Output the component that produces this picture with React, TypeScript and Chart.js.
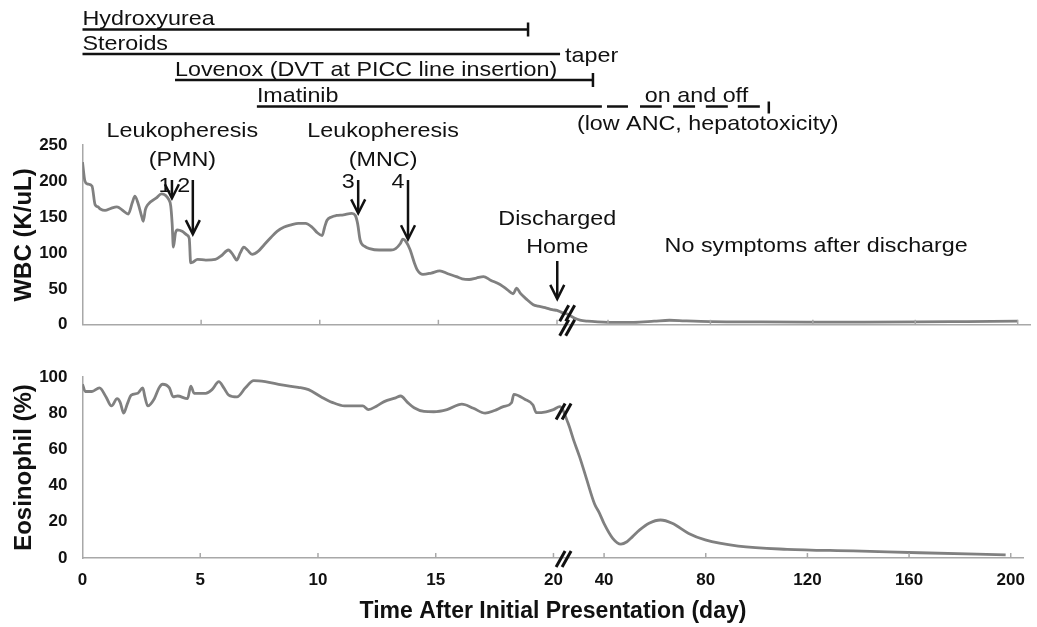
import React, { useEffect, useRef } from 'react';
import { Chart, registerables, LinearScale } from 'chart.js';

Chart.register(...registerables);

// ---------- data ----------
const X_TICKS = [0, 5, 10, 15, 20, 40, 80, 120, 160, 200];
const WBC_TICKS = [0, 50, 100, 150, 200, 250];
const EOS_TICKS = [0, 20, 40, 60, 80, 100];

const WBC_DAYS = [0, 0.1, 0.2, 0.4, 0.53, 0.65, 0.75, 0.95, 1.2, 1.45, 1.7, 1.93, 2.1, 2.21, 2.35, 2.5, 2.56, 2.65, 2.75, 3.1, 3.33, 3.5, 3.62, 3.72, 3.78, 3.83, 3.92, 4.0, 4.2, 4.4, 4.5, 4.56, 4.65, 4.85, 5.2, 5.6, 5.85, 6.15, 6.35, 6.5, 6.65, 6.8, 6.95, 7.15, 7.4, 7.65, 7.9, 8.2, 8.5, 8.8, 9.1, 9.4, 9.7, 9.9, 10.1, 10.2, 10.3, 10.5, 10.7, 11.0, 11.35, 11.5, 11.6, 11.7, 11.9, 12.1, 12.5, 13.0, 13.2, 13.4, 13.5, 13.65, 13.8, 14.0, 14.1, 14.35, 14.7, 15.06, 15.4, 15.76, 16.0, 16.3, 16.6, 16.9, 17.2, 17.6, 17.9, 18.15, 18.3, 18.45, 18.7, 19.0, 19.2, 19.5, 19.8, 20, 22, 24, 27, 29, 32, 36, 40, 50, 58, 64, 70, 80, 100, 120, 140, 160, 180, 200];
const WBC_VALUES = [226, 200, 196, 193, 167, 164, 161, 159, 162, 164, 159, 154, 170, 179, 168, 150, 144, 160, 167, 176, 182, 180, 175, 165, 140, 108, 128, 132, 130, 125, 120, 86, 87, 91, 90, 91, 96, 104, 97, 90, 100, 108, 104, 98, 102, 111, 120, 130, 136, 139, 141, 141, 135, 128, 124, 135, 145, 150, 152, 153, 155, 152, 140, 118, 109, 106, 104, 104, 106, 113, 119, 115, 105, 85, 77, 70, 72, 75, 71, 67, 64, 63, 65, 67, 62, 56, 49, 43, 51, 44, 36, 28, 26, 24, 21, 20, 17, 15, 9, 6.5, 5, 4, 3.5, 3.5, 5, 6.3, 5.5, 4.5, 4, 3.8, 3.8, 4, 4.5, 5];

const EOS_DAYS = [0, 0.12, 0.4, 0.72, 1.0, 1.23, 1.47, 1.6, 1.75, 1.9, 2.07, 2.35, 2.56, 2.65, 2.77, 3.05, 3.25, 3.4, 3.69, 3.85, 4.04, 4.46, 4.6, 4.74, 5.23, 5.5, 5.79, 6.0, 6.21, 6.56, 6.92, 7.27, 7.76, 8.46, 9.16, 9.6, 10.14, 10.6, 11.13, 11.9, 12.14, 12.5, 12.81, 13.3, 13.51, 13.8, 14.08, 14.5, 14.92, 15.48, 16.11, 16.6, 17.1, 17.5, 17.87, 18.22, 18.32, 18.78, 19.13, 19.27, 19.69, 20, 22.5, 25.8, 28, 30.3, 33, 36.2, 38.2, 40, 43.4, 46.6, 49, 51.2, 54, 57.7, 62.2, 66.8, 73.3, 79.8, 92.8, 112, 138, 164, 198];
const EOS_VALUES = [96, 92, 92, 94, 89, 84, 88, 86, 80, 85, 90, 91, 94, 89, 84, 88, 94, 96, 94, 89, 89.5, 88, 95, 91, 91, 93, 97.4, 94, 90, 89, 94, 98, 97.4, 95.6, 94.3, 93, 89, 86, 84, 84, 82, 84, 86.4, 88.5, 89.5, 86, 83, 81, 80.8, 82, 85, 82.7, 80, 81.5, 83.6, 85.8, 90.4, 87.7, 84.5, 80.3, 80.8, 82, 83.6, 74.4, 65, 56, 44, 30, 24.7, 19, 10.9, 7.7, 9, 11.8, 15.5, 19.2, 21, 19.2, 13.6, 10, 6.6, 4.8, 3.9, 2.9, 1.7];

// treatment timeline (days)
const DRUG_NAMES = ['Hydroxyurea', 'Steroids', 'Lovenox (DVT at PICC line insertion)', 'Imatinib'];
const DRUG_START = [0, 0, 3.9, 7.35];
const DRUG_END = [18.78, 21.2, 34.1, 37.6];
const DRUG_END_MARK = [true, false, true, false];
const IMATINIB_ON_START = [39.6, 52.5, 65.4, 78.2, 90.7];
const IMATINIB_ON_END = [47.8, 61, 74, 86.8, 99.3];
const IMATINIB_STOP_DAY = 102.8;

// events
const LEUKO_LABELS = ['1', '2', '3', '4'];
const LEUKO_DAYS = [3.77, 4.65, 11.62, 13.72];
const LEUKO_TIP_WBC = [176, 126, 155, 119];
const DISCHARGE_DAY = 20.1;
const DISCHARGE_TIP_WBC = 36;
const NO_SYMPTOM_DAY = 121.3;
const ONOFF_DAY = 54.4;
const LOWANC_DAY = 27.8;
const BREAK_DAY = 24;
const WBC_BREAK_VALUE = 16;
const EOS_BREAK_VALUE = 81;

// ---------- broken x axis ----------
const X_SEGMENTS = [
  { from: 0, to: 20, share: 474.5 },
  { from: 20, to: 40, share: 51 },
  { from: 40, to: 205, share: 422.5 },
];
const TOTAL_SHARE = X_SEGMENTS.reduce((a, s) => a + s.share, 0);
function dayToDecimal(d: number) {
  let acc = 0;
  for (let i = 0; i < X_SEGMENTS.length; i++) {
    const s = X_SEGMENTS[i];
    if (d <= s.to || i === X_SEGMENTS.length - 1) {
      return (acc + ((d - s.from) / (s.to - s.from)) * s.share) / TOTAL_SHARE;
    }
    acc += s.share;
  }
  return 1;
}
function decimalToDay(f: number) {
  let acc = 0;
  const target = f * TOTAL_SHARE;
  for (let i = 0; i < X_SEGMENTS.length; i++) {
    const s = X_SEGMENTS[i];
    if (target <= acc + s.share || i === X_SEGMENTS.length - 1) {
      return s.from + ((target - acc) / s.share) * (s.to - s.from);
    }
    acc += s.share;
  }
  return 205;
}

class BrokenScale extends LinearScale {
  static id = 'broken';
  static defaults = LinearScale.defaults;
  getPixelForValue(value: number) {
    return this.getPixelForDecimal(dayToDecimal(value));
  }
  getValueForPixel(pixel: number) {
    return decimalToDay(this.getDecimalForPixel(pixel));
  }
}
Chart.register(BrokenScale as any);

// ---------- styles ----------
const FONT = '"Liberation Sans", Arial, Helvetica, sans-serif';
const TEXT = '#111111';
const AXIS = '#a8a8a8';
const CURVE = '#808080';
const ANNOT_SIZE = 21;
const STRETCH = 1.11;

function label(ctx: CanvasRenderingContext2D, s: string, x: number, y: number, align: CanvasTextAlign = 'left') {
  ctx.save();
  ctx.font = `${ANNOT_SIZE}px ${FONT}`;
  ctx.fillStyle = TEXT;
  ctx.textBaseline = 'alphabetic';
  ctx.textAlign = align;
  ctx.translate(x, y);
  ctx.scale(STRETCH, 1);
  ctx.fillText(s, 0, 0);
  ctx.restore();
}

function arrow(ctx: CanvasRenderingContext2D, x: number, y1: number, y2: number) {
  ctx.save();
  ctx.strokeStyle = '#111';
  ctx.lineWidth = 2.5;
  ctx.beginPath();
  ctx.moveTo(x, y1);
  ctx.lineTo(x, y2 - 1);
  ctx.stroke();
  ctx.beginPath();
  ctx.moveTo(x - 7, y2 - 14);
  ctx.lineTo(x, y2);
  ctx.lineTo(x + 7, y2 - 14);
  ctx.stroke();
  ctx.restore();
}

function breakMark(ctx: CanvasRenderingContext2D, cx: number, cy: number) {
  ctx.save();
  ctx.strokeStyle = '#111';
  ctx.lineWidth = 3;
  for (const off of [-3, 3]) {
    ctx.beginPath();
    ctx.moveTo(cx + off - 4.5, cy + 8);
    ctx.lineTo(cx + off + 4.5, cy - 8);
    ctx.stroke();
  }
  ctx.restore();
}

function hline(ctx: CanvasRenderingContext2D, x1: number, x2: number, y: number) {
  ctx.beginPath();
  ctx.moveTo(x1, y);
  ctx.lineTo(x2, y);
  ctx.stroke();
}
function vline(ctx: CanvasRenderingContext2D, x: number, y1: number, y2: number) {
  ctx.beginPath();
  ctx.moveTo(x, y1);
  ctx.lineTo(x, y2);
  ctx.stroke();
}

const tickMarksPlugin = {
  id: 'tickMarks',
  afterDatasetsDraw(chart: any) {
    const ctx = chart.ctx;
    const xs = chart.scales.x;
    const bottom = chart.chartArea.bottom;
    ctx.save();
    ctx.strokeStyle = AXIS;
    ctx.lineWidth = 1.5;
    X_TICKS.forEach((t) => {
      if (t === 0) return;
      const px = xs.getPixelForValue(t);
      vline(ctx, px, bottom, bottom - 5);
    });
    ctx.restore();
  },
};

const topAnnotPlugin = {
  id: 'topAnnot',
  afterDraw(chart: any) {
    const ctx = chart.ctx as CanvasRenderingContext2D;
    const xs = chart.scales.x;
    const ys = chart.scales.y;
    const X = (d: number) => xs.getPixelForValue(d);
    const Y = (v: number) => ys.getPixelForValue(v);

    // treatment timeline
    const lineY = [29.5, 54, 80, 106.5];
    ctx.save();
    ctx.strokeStyle = '#111';
    ctx.lineWidth = 2.5;
    DRUG_NAMES.forEach((name, i) => {
      const x1 = X(DRUG_START[i]);
      const x2 = X(DRUG_END[i]);
      hline(ctx, x1, x2, lineY[i]);
      if (DRUG_END_MARK[i]) vline(ctx, x2, lineY[i] - 7, lineY[i] + 7);
      label(ctx, name, x1, lineY[i] - 4.5);
    });
    IMATINIB_ON_START.forEach((s, i) => {
      hline(ctx, X(s), X(IMATINIB_ON_END[i]), lineY[3]);
    });
    vline(ctx, X(IMATINIB_STOP_DAY), lineY[3] - 5, lineY[3] + 7);
    ctx.restore();
    label(ctx, 'taper', X(DRUG_END[1]) + 5, 62);
    label(ctx, 'on and off', X(ONOFF_DAY), 102);
    label(ctx, '(low ANC, hepatotoxicity)', X(LOWANC_DAY), 130);

    // leukopheresis
    const c1 = (X(LEUKO_DAYS[0]) + X(LEUKO_DAYS[1])) / 2;
    const c2 = (X(LEUKO_DAYS[2]) + X(LEUKO_DAYS[3])) / 2;
    label(ctx, 'Leukopheresis', c1, 137, 'center');
    label(ctx, '(PMN)', c1, 166, 'center');
    label(ctx, 'Leukopheresis', c2, 137, 'center');
    label(ctx, '(MNC)', c2, 166, 'center');
    const numOffset = [-7, -9, -10, -10];
    const numBase = [192, 192, 188, 188];
    LEUKO_DAYS.forEach((d, i) => {
      const x = X(d);
      arrow(ctx, x, 180, Y(LEUKO_TIP_WBC[i]));
      label(ctx, LEUKO_LABELS[i], x + numOffset[i], numBase[i], 'center');
    });

    // discharge
    const dx = X(DISCHARGE_DAY);
    label(ctx, 'Discharged', dx, 225, 'center');
    label(ctx, 'Home', dx, 253, 'center');
    arrow(ctx, dx, 261, Y(DISCHARGE_TIP_WBC));
    label(ctx, 'No symptoms after discharge', X(NO_SYMPTOM_DAY), 252, 'center');

    // axis breaks
    breakMark(ctx, X(BREAK_DAY), Y(WBC_BREAK_VALUE));
    breakMark(ctx, X(BREAK_DAY), chart.chartArea.bottom + 3);
  },
};

const bottomAnnotPlugin = {
  id: 'bottomAnnot',
  afterDraw(chart: any) {
    const ctx = chart.ctx as CanvasRenderingContext2D;
    const xs = chart.scales.x;
    const ys = chart.scales.y;
    breakMark(ctx, xs.getPixelForValue(BREAK_DAY), ys.getPixelForValue(EOS_BREAK_VALUE));
    breakMark(ctx, xs.getPixelForValue(BREAK_DAY), chart.chartArea.bottom + 1);
  },
};

function xScale(showLabels: boolean, height: number) {
  return {
    type: 'broken',
    min: 0,
    max: 205,
    afterBuildTicks: (s: any) => {
      s.ticks = X_TICKS.map((v) => ({ value: v }));
    },
    afterFit: (s: any) => {
      s.height = height;
    },
    grid: { display: false, drawTicks: false, tickLength: 0 },
    border: { display: true, color: AXIS, width: 1.5 },
    ticks: {
      display: showLabels,
      autoSkip: false,
      maxRotation: 0,
      padding: 12,
      color: TEXT,
      font: { family: FONT, size: 17, weight: 'bold' },
      callback: (v: any) => String(v),
    },
    title: {
      display: showLabels,
      text: 'Time After Initial Presentation (day)',
      color: TEXT,
      font: { family: FONT, size: 23, weight: 'bold' },
      padding: { top: 0, bottom: 2 },
    },
  };
}

function yScale(ticks: number[], title: string) {
  return {
    type: 'linear',
    min: ticks[0],
    max: ticks[ticks.length - 1],
    afterBuildTicks: (s: any) => {
      s.ticks = ticks.map((v) => ({ value: v }));
    },
    afterFit: (s: any) => {
      s.width = 82.5;
    },
    grid: { display: false, drawTicks: false, tickLength: 0 },
    border: { display: true, color: AXIS, width: 1.5 },
    ticks: {
      padding: 15,
      color: TEXT,
      font: { family: FONT, size: 17, weight: 'bold' },
      callback: (v: any) => String(v),
    },
    title: {
      display: true,
      text: title,
      color: TEXT,
      font: { family: FONT, size: 24, weight: 'bold' },
      padding: { top: 10, bottom: 0 },
    },
  };
}

function dataset(days: number[], values: number[]) {
  return {
    data: days.map((d, i) => ({ x: d, y: values[i] })),
    borderColor: CURVE,
    borderWidth: 2.8,
    pointRadius: 0,
    fill: false,
    cubicInterpolationMode: 'monotone',
  };
}

export default function App() {
  const topRef = useRef<HTMLCanvasElement>(null);
  const botRef = useRef<HTMLCanvasElement>(null);

  useEffect(() => {
    const common = {
      responsive: false,
      animation: false,
      devicePixelRatio: 1,
      events: [],
      plugins: { legend: { display: false }, tooltip: { enabled: false } },
    };
    const top = new Chart(topRef.current as HTMLCanvasElement, {
      type: 'line',
      data: { datasets: [dataset(WBC_DAYS, WBC_VALUES) as any] },
      options: {
        ...common,
        layout: { padding: { top: 145, right: 6.5, left: 0, bottom: 0 } },
        scales: { x: xScale(false, 10) as any, y: yScale(WBC_TICKS, 'WBC (K/uL)') as any },
      } as any,
      plugins: [tickMarksPlugin, topAnnotPlugin],
    });
    const bot = new Chart(botRef.current as HTMLCanvasElement, {
      type: 'line',
      data: { datasets: [dataset(EOS_DAYS, EOS_VALUES) as any] },
      options: {
        ...common,
        layout: { padding: { top: 27, right: 6.5, left: 0, bottom: 0 } },
        scales: { x: xScale(true, 69) as any, y: yScale(EOS_TICKS, 'Eosinophil (%)') as any },
      } as any,
      plugins: [tickMarksPlugin, bottomAnnotPlugin],
    });
    return () => {
      top.destroy();
      bot.destroy();
    };
  }, []);

  return (
    <div style={{ position: 'absolute', left: 0, top: 0, width: 1037, height: 627, background: '#fff' }}>
      <canvas ref={topRef} width={1037} height={350} style={{ position: 'absolute', left: 0, top: 0, width: 1037, height: 350 }} />
      <canvas ref={botRef} width={1037} height={277} style={{ position: 'absolute', left: 0, top: 350, width: 1037, height: 277 }} />
    </div>
  );
}
